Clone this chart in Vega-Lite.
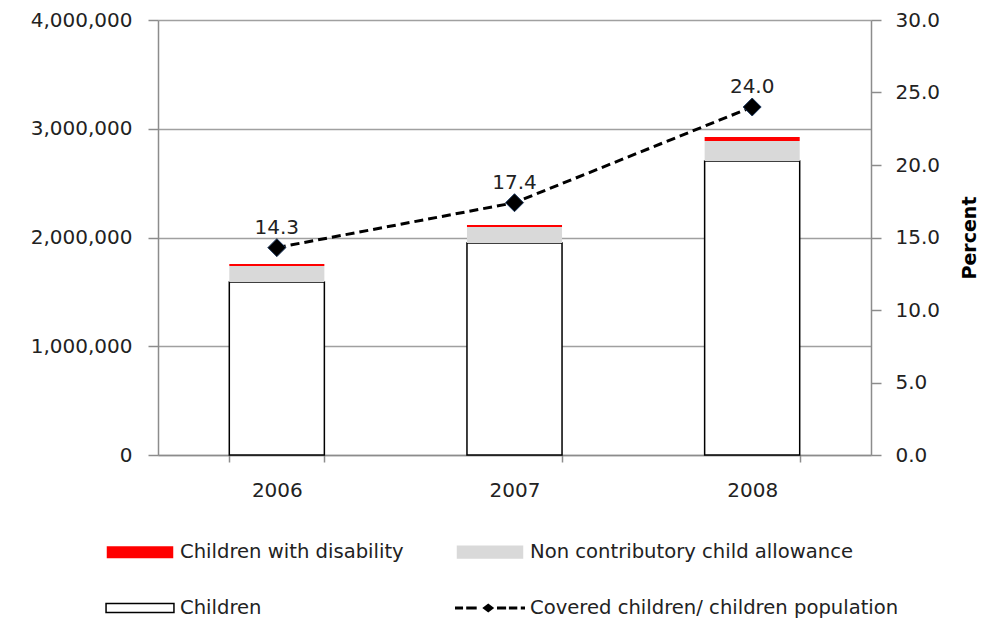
{
  "$schema": "https://vega.github.io/schema/vega-lite/v6.json",
  "width": 713,
  "height": 435,
  "autosize": {"type": "none"},
  "padding": {"left": 158, "top": 20, "right": 113, "bottom": 166},
  "background": "white",
  "config": {
    "view": {"stroke": null},
    "font": "DejaVu Sans",
    "axis": {
      "labelFont": "DejaVu Sans",
      "labelFontSize": 20,
      "labelColor": "#222222",
      "domainColor": "#8c8c8c",
      "domainWidth": 1.5,
      "tickColor": "#8c8c8c",
      "tickWidth": 1.5,
      "titleFont": "DejaVu Sans",
      "titleColor": "#000000"
    },
    "legend": {
      "orient": "none",
      "legendX": -54,
      "legendY": 496,
      "columns": 2,
      "direction": "horizontal",
      "padding": 0,
      "columnPadding": 48,
      "rowPadding": 10,
      "symbolSize": 4900,
      "symbolStrokeWidth": 1.5,
      "labelFont": "DejaVu Sans",
      "labelFontSize": 19.6,
      "labelColor": "#222222",
      "labelOffset": 4,
      "labelLimit": 500
    }
  },
  "datasets": {
    "beneficiaries": [
      {"year": "2006", "series": "Children", "value": 1591000, "rank": 1},
      {"year": "2006", "series": "Non contributory child allowance", "value": 147000, "rank": 2},
      {"year": "2006", "series": "Children with disability", "value": 18000, "rank": 3},
      {"year": "2007", "series": "Children", "value": 1949000, "rank": 1},
      {"year": "2007", "series": "Non contributory child allowance", "value": 148000, "rank": 2},
      {"year": "2007", "series": "Children with disability", "value": 18000, "rank": 3},
      {"year": "2008", "series": "Children", "value": 2703000, "rank": 1},
      {"year": "2008", "series": "Non contributory child allowance", "value": 184000, "rank": 2},
      {"year": "2008", "series": "Children with disability", "value": 37000, "rank": 3}
    ],
    "coverage": [
      {"year": "2006", "percent": 14.3},
      {"year": "2007", "percent": 17.4},
      {"year": "2008", "percent": 24.0}
    ]
  },
  "encoding": {
    "x": {
      "field": "year",
      "type": "nominal",
      "scale": {"paddingInner": 0.6, "paddingOuter": 0.3},
      "axis": {
        "title": null,
        "labelAngle": 0,
        "tickBand": "extent",
        "tickSize": 7,
        "labelPadding": 18
      }
    }
  },
  "layer": [
    {
      "data": {"name": "beneficiaries"},
      "encoding": {
        "y": {
          "field": "value",
          "type": "quantitative",
          "stack": "zero",
          "scale": {"domain": [0, 4000000], "nice": false},
          "axis": {
            "title": null,
            "values": [0, 1000000, 2000000, 3000000, 4000000],
            "format": ",.0f",
            "grid": true,
            "gridColor": "#a0a0a0",
            "gridWidth": 1.5,
            "tickSize": 10,
            "labelPadding": 16
          }
        },
        "color": {
          "field": "series",
          "type": "nominal",
          "scale": {
            "domain": [
              "Children with disability",
              "Non contributory child allowance",
              "Children",
              "Covered children/ children population"
            ],
            "range": ["#ff0000", "#d9d9d9", "#ffffff", "#000000"]
          },
          "legend": {"title": null}
        },
        "stroke": {
          "field": "series",
          "type": "nominal",
          "scale": {
            "domain": [
              "Children with disability",
              "Non contributory child allowance",
              "Children",
              "Covered children/ children population"
            ],
            "range": ["transparent", "transparent", "#000000", "transparent"]
          },
          "legend": {"title": null}
        },
        "order": {"field": "rank", "type": "quantitative", "sort": "ascending"}
      },
      "layer": [
        {
          "mark": {"type": "bar", "strokeWidth": 1.5}
        },
        {
          "mark": {"type": "point", "size": 0, "filled": true, "opacity": 1, "strokeWidth": 1.5},
          "encoding": {
            "shape": {
              "field": "series",
              "type": "nominal",
              "scale": {
                "domain": [
                  "Children with disability",
                  "Non contributory child allowance",
                  "Children",
                  "Covered children/ children population"
                ],
                "range": [
                  "M-0.95,-0.17H0.95V0.17H-0.95Z",
                  "M-0.95,-0.19H0.95V0.19H-0.95Z",
                  "M-0.97,-0.13H0.97V0.13H-0.97Z",
                  "M-1,-0.045H-0.77V0.045H-1Z M-0.68,-0.045H-0.38V0.045H-0.68Z M-0.22,0L-0.05,-0.13L0.12,0L-0.05,0.13Z M0.2,-0.045H0.46V0.045H0.2Z M0.54,-0.045H0.78V0.045H0.54Z M0.88,-0.045H1V0.045H0.88Z"
                ]
              },
              "legend": {"title": null}
            }
          }
        }
      ]
    },
    {
      "data": {"name": "coverage"},
      "encoding": {
        "y": {
          "field": "percent",
          "type": "quantitative",
          "scale": {"domain": [0, 30], "nice": false},
          "axis": {
            "orient": "right",
            "title": "Percent",
            "titleFontSize": 19,
            "titleFontWeight": "bold",
            "titleAngle": 270,
            "titlePadding": 40,
            "values": [0, 5, 10, 15, 20, 25, 30],
            "format": ".1f",
            "grid": false,
            "tickSize": 10,
            "labelPadding": 14
          }
        }
      },
      "layer": [
        {
          "mark": {"type": "line", "color": "#000000", "strokeWidth": 3, "strokeDash": [9, 5]}
        },
        {
          "mark": {"type": "point", "shape": "diamond", "size": 324, "filled": true, "color": "#000000", "stroke": "#1f3a60", "strokeWidth": 1, "opacity": 1}
        },
        {
          "mark": {"type": "text", "dy": -14, "baseline": "alphabetic", "fontSize": 20, "font": "DejaVu Sans", "color": "#222222"},
          "encoding": {"text": {"field": "percent", "type": "quantitative", "format": ".1f"}}
        }
      ]
    }
  ],
  "resolve": {"scale": {"y": "independent"}}
}
